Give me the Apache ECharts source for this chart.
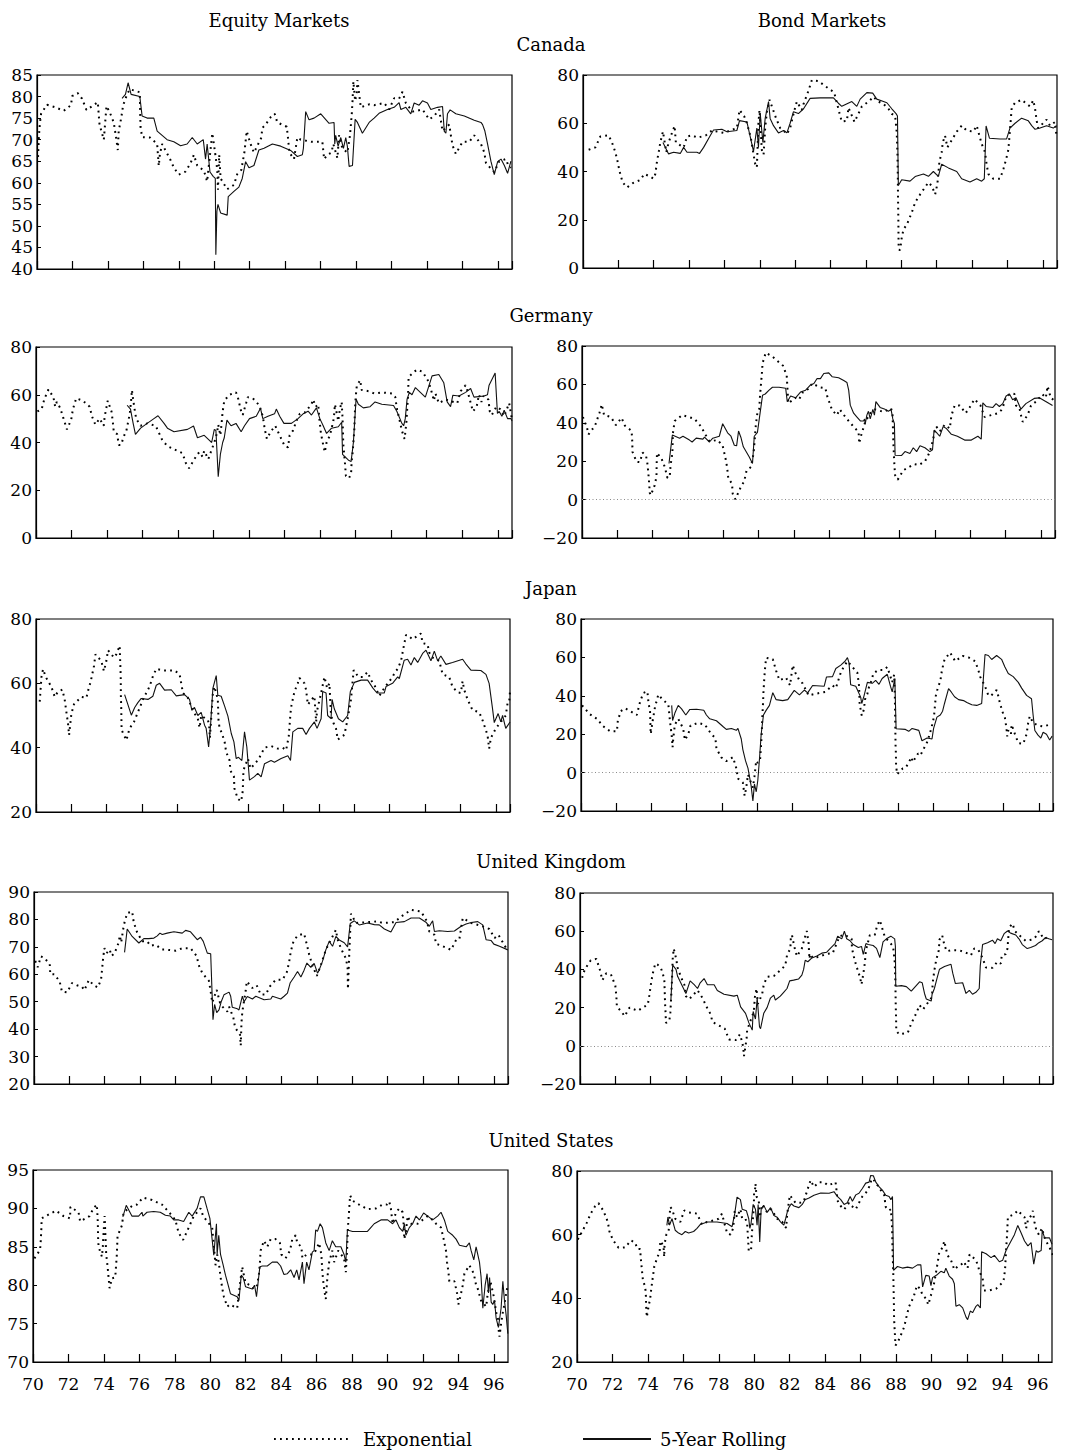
<!DOCTYPE html>
<html><head><meta charset="utf-8">
<script src="https://cdn.jsdelivr.net/npm/echarts/dist/echarts.min.js"></script>
<style>html,body{margin:0;padding:0;background:#fff}#c{width:1072px;height:1454px}</style>
</head><body><div id="c"></div>
<script>
// ---------- tick labels ----------
const xTickYears = [1970,1972,1974,1976,1978,1980,1982,1984,1986,1988,1990,1992,1994,1996];
const xTickLabels = ['70','72','74','76','78','80','82','84','86','88','90','92','94','96'];
const columnTitles = ['Equity Markets','Bond Markets'];
const countryTitles = ['Canada','Germany','Japan','United Kingdom','United States'];
const legendNames = ['Exponential','5-Year Rolling'];
const zeroRef = 0;

// ---------- data: [year, correlation %] ----------
const canadaEquityRolling = [[1974.80,79.6],[1974.99,80.5],[1975.14,83.2],[1975.31,80.5],[1975.80,80],[1975.93,75.5],[1976.21,75],[1976.59,75],[1976.78,72],[1977.06,71],[1977.34,70],[1977.72,69.5],[1978.10,68.6],[1978.47,69],[1978.76,70.5],[1979.04,69],[1979.38,70],[1979.51,65.5],[1979.60,69],[1979.76,62.5],[1979.94,61.5],[1980.06,61],[1980.09,43.3],[1980.15,53.4],[1980.21,55],[1980.36,53],[1980.73,52.5],[1980.79,56.8],[1981.11,58],[1981.39,59],[1981.58,61],[1981.77,64.9],[1981.96,63.5],[1982.24,64],[1982.52,67.6],[1982.81,68],[1983.28,69],[1983.75,68.5],[1984.31,67.5],[1984.69,66.1],[1984.97,66.5],[1985.03,68],[1985.16,76.5],[1985.35,74.6],[1985.63,75],[1986.01,76],[1986.48,73.8],[1986.76,74],[1986.80,69],[1986.85,71],[1986.99,68.5],[1987.14,70.5],[1987.29,68],[1987.42,70.5],[1987.51,68.5],[1987.61,63.8],[1987.80,64],[1987.95,74.7],[1988.08,74],[1988.36,71.5],[1988.74,74],[1989.02,75],[1989.30,76.1],[1989.77,77],[1990.15,77.5],[1990.43,78.6],[1990.53,77],[1990.81,77.5],[1991.09,76],[1991.28,78.5],[1991.56,78],[1991.75,79],[1992.03,78.5],[1992.22,77],[1992.60,77.5],[1992.88,77.7],[1992.98,71.9],[1993.07,71.5],[1993.16,76],[1993.31,76.9],[1993.63,76],[1994.11,75.5],[1994.67,74.5],[1995.05,74],[1995.14,73.5],[1995.27,72],[1995.42,69],[1995.61,65],[1995.80,61.9],[1995.99,64.9],[1996.18,65.5],[1996.37,64],[1996.55,62.2],[1996.74,65]];
const canadaEquityExp = [[1970.06,66],[1970.11,71],[1970.17,74],[1970.23,76],[1970.56,78.1],[1971.04,77.5],[1971.51,76.7],[1971.92,78],[1971.98,80.1],[1972.30,80.8],[1972.54,79.5],[1972.79,76.9],[1973.01,77.5],[1973.20,78],[1973.43,78.7],[1973.52,73.8],[1973.63,72],[1973.77,70],[1973.92,77.8],[1974.09,76.5],[1974.33,74],[1974.48,70],[1974.56,67.6],[1974.61,72],[1974.75,75],[1974.86,78],[1974.95,79],[1975.08,80.5],[1975.24,81.7],[1975.80,81],[1975.84,73],[1975.93,70.6],[1976.37,70.5],[1976.78,69],[1976.87,63.9],[1976.93,66.5],[1977.06,69],[1977.53,65.3],[1977.72,63.5],[1978.00,61.9],[1978.38,62.6],[1978.66,64.5],[1978.85,66.5],[1979.04,64],[1979.42,62.8],[1979.60,60.3],[1979.89,71.5],[1979.98,69],[1980.08,66],[1980.17,63],[1980.21,58.4],[1980.28,66.5],[1980.36,61],[1980.73,58.5],[1981.11,59.5],[1981.30,62],[1981.53,63],[1981.71,67.3],[1981.83,72],[1982.05,69],[1982.24,67],[1982.66,70.5],[1982.71,72.7],[1982.90,73.5],[1983.18,75.2],[1983.41,76],[1983.56,74],[1984.09,73],[1984.16,70.5],[1984.24,67],[1984.50,65.5],[1984.69,70.5],[1984.88,70],[1985.50,69.5],[1986.10,69.5],[1986.20,65.5],[1986.38,66.5],[1986.61,67],[1986.72,69],[1986.95,65.7],[1987.04,71],[1987.23,68],[1987.51,67],[1987.66,71],[1987.76,76],[1987.80,78.8],[1987.85,83.5],[1987.95,79],[1988.04,80.8],[1988.08,83.8],[1988.27,77.5],[1988.74,78.2],[1989.02,78],[1989.59,78.5],[1989.87,77],[1990.15,79.6],[1990.43,79.5],[1990.62,81.1],[1990.81,78.5],[1991.19,76.5],[1991.75,77],[1992.13,74.7],[1992.41,75.5],[1992.69,77],[1992.88,72],[1993.26,73.5],[1993.35,71],[1993.45,68.6],[1993.63,66.7],[1994.01,69.5],[1994.39,69.5],[1994.67,71],[1995.05,69],[1995.24,67],[1995.33,64.6],[1995.67,63],[1995.80,62.5],[1996.08,65],[1996.46,65.5],[1996.59,64],[1996.74,63.5]];
const canadaBondRolling = [[1974.52,52],[1974.84,47.3],[1975.12,48],[1975.50,47.5],[1975.69,50],[1975.88,48],[1976.44,48],[1976.59,47.5],[1976.82,50],[1977.19,54.8],[1977.38,57.2],[1977.85,57.5],[1978.14,56.5],[1978.70,57],[1978.85,61.1],[1979.27,60.5],[1979.64,48.3],[1979.83,58],[1979.92,50],[1980.02,64.1],[1980.17,52],[1980.30,62],[1980.49,69],[1980.58,62],[1980.77,59],[1981.05,56],[1981.34,57],[1981.53,56],[1981.71,60],[1981.90,64.8],[1982.18,64],[1982.47,66],[1982.84,70.3],[1983.41,70.5],[1984.16,70.5],[1984.44,68.3],[1984.63,67],[1985.20,69],[1985.48,67],[1985.67,70],[1986.05,72.7],[1986.38,72.5],[1986.61,70],[1986.99,69],[1987.18,68.5],[1987.46,66],[1987.70,64],[1987.78,63],[1987.83,34.2],[1988.02,36.6],[1988.49,36],[1988.78,37.9],[1989.25,39],[1989.53,38],[1989.81,40],[1990.09,38],[1990.28,43],[1990.66,41.5],[1991.13,40],[1991.41,37],[1991.88,35.6],[1992.26,37],[1992.54,36],[1992.69,37],[1992.79,58.9],[1992.98,53.8],[1993.58,53.5],[1993.95,53.5],[1994.14,58],[1994.43,60],[1994.80,62.1],[1995.18,61],[1995.37,59],[1995.56,57.5],[1995.84,58],[1996.21,59],[1996.59,58],[1996.78,59]];
const canadaBondExp = [[1970.32,49],[1970.70,50],[1970.98,54.5],[1971.45,55],[1971.64,52],[1971.83,48],[1971.96,44],[1972.07,40],[1972.24,35.5],[1972.49,33.4],[1972.82,35.2],[1973.24,36.5],[1973.47,39],[1973.77,38],[1973.99,37],[1974.09,39],[1974.18,44],[1974.29,48.5],[1974.37,52],[1974.52,56.6],[1974.60,53],[1974.71,48],[1974.84,52],[1975.03,56],[1975.18,58.9],[1975.25,52],[1975.69,50],[1975.88,54.5],[1976.16,55],[1976.48,54],[1976.95,55],[1977.29,57],[1977.95,56],[1978.32,57],[1978.70,58],[1978.85,65.5],[1979.11,63],[1979.27,60],[1979.49,54],[1979.64,47.2],[1979.74,43],[1979.83,41.7],[1979.92,60],[1979.98,65.5],[1980.11,49],[1980.21,47],[1980.30,58],[1980.40,65],[1980.55,69.7],[1980.92,62],[1981.15,58],[1981.34,57],[1981.53,55.5],[1981.71,58],[1981.94,65],[1982.09,69],[1982.37,65.5],[1982.47,68],[1982.75,73.5],[1982.94,77.9],[1983.31,77.5],[1983.69,75.4],[1984.20,72.8],[1984.48,64.8],[1984.63,60.7],[1984.92,61],[1985.01,66.5],[1985.35,60.5],[1985.76,66.9],[1986.23,69.5],[1986.42,71],[1986.70,69],[1986.99,68],[1987.27,66],[1987.46,63.9],[1987.65,63],[1987.74,56],[1987.78,47],[1987.80,38],[1987.81,30],[1987.82,25],[1987.83,20],[1987.835,16],[1987.84,12],[1987.85,7.6],[1987.93,7.5],[1988.02,12.5],[1988.12,16],[1988.31,18],[1988.59,23],[1988.78,27.2],[1989.06,30.5],[1989.34,33.5],[1989.53,35.5],[1989.72,34],[1989.91,30.5],[1990.04,35],[1990.15,44],[1990.28,48],[1990.34,52],[1990.47,54.9],[1990.60,50],[1990.85,53],[1991.13,56.5],[1991.41,59],[1991.69,57],[1992.07,56.5],[1992.26,59],[1992.54,51.5],[1992.73,48],[1992.82,43],[1992.92,39],[1993.20,37],[1993.58,37],[1993.77,41],[1993.92,45],[1994.05,49],[1994.14,57],[1994.24,66.5],[1994.43,68.5],[1994.80,69.7],[1995.27,67],[1995.46,69.5],[1995.56,66],[1995.65,61],[1995.74,58],[1996.21,61.5],[1996.40,59],[1996.69,60.5],[1996.78,54]];
const germanyEquityRolling = [[1975.13,55.6],[1975.32,54],[1975.47,48],[1975.60,43.4],[1975.89,46],[1976.26,48],[1976.64,50],[1976.87,51.2],[1977.21,48],[1977.40,46],[1977.77,44.5],[1978.53,45.5],[1978.87,46.9],[1979.09,42],[1979.47,43],[1979.75,41],[1979.89,40],[1980.04,45.5],[1980.13,45],[1980.26,25.7],[1980.38,35],[1980.51,40],[1980.60,42],[1980.75,49.4],[1980.98,47],[1981.26,48],[1981.55,44.5],[1981.74,47],[1982.02,50],[1982.40,51],[1982.64,54.3],[1982.77,50],[1983.06,51],[1983.43,52],[1983.53,54],[1983.72,51],[1983.96,48],[1984.38,48],[1984.75,50],[1985.04,52],[1985.32,53.1],[1985.51,51.5],[1985.79,54.5],[1985.98,50],[1986.17,47],[1986.36,43.8],[1986.64,46],[1987.02,46.6],[1987.21,48.5],[1987.26,35],[1987.58,32.7],[1987.74,32],[1987.87,40],[1988.02,58.2],[1988.15,56],[1988.43,54.5],[1988.81,55],[1989.09,57],[1989.47,56],[1990.13,55.5],[1990.32,53],[1990.60,48],[1990.70,47],[1990.79,50],[1990.89,58],[1991.02,61],[1991.17,60],[1991.36,63],[1991.64,61],[1991.92,59],[1992.30,67.9],[1992.68,68.5],[1992.96,65],[1993.15,57],[1993.34,55],[1993.47,59.8],[1993.81,59.5],[1994.19,61],[1994.47,62.6],[1994.66,59],[1995.23,59.5],[1995.42,60],[1995.51,64],[1995.85,69.1],[1995.98,52.2],[1996.08,53],[1996.23,51],[1996.36,53.5],[1996.55,50],[1996.74,50],[1996.80,49]];
const germanyEquityExp = [[1970.08,53],[1970.32,54],[1970.47,58.2],[1970.70,62.2],[1970.98,59],[1971.08,55],[1971.17,57],[1971.36,54.5],[1971.55,50],[1971.74,45.5],[1971.98,49.5],[1972.08,54],[1972.26,58.5],[1972.64,57.5],[1973.02,55],[1973.15,51],[1973.34,47.5],[1973.58,50],[1973.81,47],[1973.87,51],[1974.04,57.5],[1974.25,53],[1974.32,49],[1974.38,44.5],[1974.57,43.5],[1974.66,39],[1974.79,39],[1974.94,42.5],[1975.09,45],[1975.17,48],[1975.28,52],[1975.36,58],[1975.40,62],[1975.47,58],[1975.55,54],[1975.64,50],[1975.89,47],[1976.26,48],[1976.74,47],[1977.11,41],[1977.40,38.5],[1978.25,35.5],[1978.43,31.5],[1978.62,29.2],[1978.91,33],[1979.19,36],[1979.38,34],[1979.47,36.5],[1979.70,33],[1979.89,37],[1980.04,40],[1980.19,44],[1980.26,47.5],[1980.38,43],[1980.45,48],[1980.51,53],[1980.60,57.5],[1980.89,60],[1981.26,61],[1981.40,58],[1981.51,54],[1981.64,51.5],[1981.83,56.5],[1981.92,59],[1982.21,58.5],[1982.58,55.5],[1982.77,51],[1982.87,46],[1983.00,41.5],[1983.21,44.5],[1983.47,47],[1983.72,43],[1984.00,38.5],[1984.19,38],[1984.28,43],[1984.47,45],[1984.66,49],[1984.85,52],[1985.13,52.5],[1985.51,56],[1985.60,58],[1985.75,55],[1985.89,56],[1985.94,51],[1986.04,44],[1986.17,39],[1986.26,36],[1986.36,40],[1986.55,43],[1986.74,49],[1986.79,52],[1986.83,56],[1987.02,49],[1987.11,54],[1987.21,57],[1987.26,50],[1987.30,39.5],[1987.40,30.9],[1987.45,26],[1987.62,25],[1987.74,27],[1987.77,32],[1987.83,36],[1987.92,45],[1987.96,54],[1988.00,59],[1988.06,63.7],[1988.25,66.1],[1988.34,62],[1988.72,61.5],[1989.06,60.5],[1989.47,61],[1990.04,60.5],[1990.23,59],[1990.32,54],[1990.42,51],[1990.51,48],[1990.60,45],[1990.75,41.5],[1990.85,48],[1990.89,53],[1990.94,58.5],[1990.96,63],[1990.98,67.5],[1991.13,68.5],[1991.36,70],[1991.45,70.5],[1991.77,69.6],[1992.11,65.4],[1992.30,60.5],[1992.40,57.5],[1992.49,60.5],[1992.68,56.5],[1993.06,58],[1993.72,56.5],[1993.91,61.5],[1994.19,64],[1994.28,62],[1994.60,53],[1994.81,55],[1994.94,60],[1995.08,57],[1995.19,59.5],[1995.47,58],[1995.55,53],[1995.66,51.5],[1995.92,55],[1996.13,54],[1996.36,51],[1996.64,56.5],[1996.80,49.5]];
const germanyBondRolling = [[1974.93,18.8],[1975.02,26],[1975.12,33.6],[1975.53,32],[1975.72,33],[1976.09,31],[1976.24,30],[1976.47,32],[1976.85,31.5],[1976.94,32.5],[1977.22,30],[1977.41,32],[1977.78,33],[1977.97,39.5],[1978.25,34.8],[1978.44,33],[1978.63,28.3],[1978.76,28],[1978.87,35.7],[1979.00,32.5],[1979.14,27.5],[1979.47,22.3],[1979.66,18.8],[1979.76,33],[1979.94,35],[1980.23,54.4],[1980.38,55],[1980.60,57],[1980.79,58.5],[1981.16,58.5],[1981.54,58],[1981.63,51],[1981.82,54],[1982.10,53],[1982.38,56],[1982.67,57],[1982.95,59.7],[1983.14,60.5],[1983.32,63.1],[1983.51,63],[1983.70,65.7],[1983.98,66],[1984.17,64],[1984.54,63.5],[1984.83,62],[1985.01,61],[1985.11,57],[1985.20,49.2],[1985.39,45],[1985.58,43],[1985.77,41],[1985.95,40.9],[1986.01,42],[1986.05,39.5],[1986.14,44],[1986.23,46],[1986.33,42],[1986.48,47],[1986.57,44],[1986.65,51],[1986.89,48],[1987.17,47],[1987.36,46],[1987.51,47],[1987.61,42],[1987.70,39.7],[1987.74,23.1],[1988.11,23],[1988.30,25],[1988.58,24],[1988.77,27],[1988.96,25],[1989.15,28],[1989.43,27],[1989.71,25],[1989.86,26],[1989.95,36.2],[1990.08,35],[1990.27,33],[1990.46,38],[1990.65,37],[1990.93,34],[1991.27,33],[1991.68,31],[1992.06,31],[1992.43,33],[1992.62,31.5],[1992.71,50.4],[1992.90,48.5],[1993.28,48],[1993.46,50],[1993.65,48.5],[1993.84,50],[1994.03,54],[1994.22,55],[1994.40,52],[1994.59,53],[1994.87,47.1],[1995.15,50],[1995.62,52.7],[1995.91,53],[1996.47,50],[1996.66,49]];
const germanyBondExp = [[1970.05,43],[1970.18,40],[1970.27,38],[1970.37,34],[1970.74,38.5],[1970.99,45.2],[1971.12,49.6],[1971.25,44],[1971.64,43],[1971.92,38.8],[1972.24,42.6],[1972.43,38.5],[1972.81,35.8],[1972.85,30],[1972.86,24.9],[1973.09,19.7],[1973.28,19.5],[1973.43,24.5],[1973.62,23],[1973.69,20],[1973.75,14.8],[1973.80,9.2],[1973.84,3.5],[1973.90,2.3],[1974.12,7.5],[1974.22,12],[1974.23,18.5],[1974.25,24.3],[1974.50,21.5],[1974.69,17],[1974.84,11.3],[1974.97,12],[1975.02,18],[1975.12,24],[1975.15,34.5],[1975.25,40.9],[1975.68,44],[1976.06,43],[1976.38,42],[1976.75,38],[1976.98,34],[1977.22,30.4],[1977.69,31],[1977.97,28],[1978.12,22],[1978.22,17],[1978.29,11],[1978.50,8.3],[1978.54,3],[1978.69,0.2],[1979.00,6.6],[1979.19,9.5],[1979.32,15],[1979.57,17],[1979.72,24],[1979.81,34],[1979.85,39],[1979.94,45.2],[1980.04,47],[1980.09,54.4],[1980.13,59],[1980.19,65.4],[1980.23,71],[1980.41,76.5],[1980.79,74.5],[1981.39,69.7],[1981.60,64.5],[1981.69,50.1],[1982.07,53],[1982.29,52],[1982.52,56],[1982.89,58],[1983.04,60.5],[1983.51,58.4],[1983.79,58],[1983.89,54],[1984.04,50],[1984.17,46.6],[1984.45,44],[1984.60,47],[1984.98,42.3],[1985.20,40],[1985.43,37.5],[1985.67,35.3],[1985.71,29.2],[1985.77,32],[1986.05,40.5],[1986.33,45],[1986.61,47],[1987.08,45.7],[1987.51,47.5],[1987.59,45],[1987.61,40],[1987.64,30],[1987.70,17.9],[1987.74,12.7],[1987.89,10.4],[1988.21,15.3],[1988.83,18.5],[1989.09,18],[1989.43,20],[1989.56,22],[1989.71,25],[1989.86,30],[1989.99,35.5],[1990.08,38],[1990.27,35.5],[1990.55,39],[1990.84,37],[1990.93,43.7],[1991.12,49.2],[1991.40,49],[1991.74,45],[1991.96,48],[1992.24,52.3],[1992.58,49],[1992.81,43],[1993.18,44],[1993.56,45],[1993.75,46.5],[1993.84,48],[1994.03,53.6],[1994.31,55.3],[1994.50,55],[1994.59,49],[1994.78,48],[1994.87,44],[1994.97,40.5],[1995.25,44],[1995.44,49],[1995.72,51],[1995.91,53],[1996.09,54.8],[1996.28,53],[1996.38,59.1],[1996.56,53],[1996.71,52]];
const japanEquityRolling = [[1975.01,56.5],[1975.16,54],[1975.39,50.1],[1975.58,52.5],[1975.76,54],[1975.95,55.3],[1976.33,55],[1976.61,56],[1976.80,59.4],[1976.99,60],[1977.27,57.9],[1977.65,58],[1977.93,56.1],[1978.40,56.5],[1978.68,55],[1978.81,51.7],[1978.96,52.5],[1979.15,50],[1979.34,51],[1979.53,47],[1979.62,46],[1979.76,40.2],[1979.87,47],[1980.00,58.4],[1980.19,62.4],[1980.28,56.3],[1980.47,56],[1980.66,53],[1980.85,49.8],[1981.04,44.4],[1981.19,41.8],[1981.32,36.6],[1981.45,37],[1981.64,36],[1981.79,44.9],[1981.92,40.2],[1982.07,29.9],[1982.35,31],[1982.54,32],[1982.73,30.9],[1982.92,35],[1983.29,36],[1983.48,35.5],[1983.86,36.6],[1984.24,37.5],[1984.39,36],[1984.52,44.9],[1984.80,46],[1985.08,46],[1985.27,44.1],[1985.46,46],[1985.74,48],[1985.89,46],[1986.12,49],[1986.21,57.5],[1986.40,57],[1986.49,50],[1986.68,49],[1986.74,55],[1986.87,52],[1987.10,49],[1987.34,48],[1987.62,50],[1987.77,57.4],[1988.00,60.3],[1988.38,61],[1988.75,61],[1989.04,58.6],[1989.28,57],[1989.69,57],[1989.79,59],[1990.16,60],[1990.45,62],[1990.54,61.5],[1990.82,67.2],[1991.01,67.5],[1991.20,65.7],[1991.39,68],[1991.58,66.5],[1991.86,69.3],[1992.05,70.3],[1992.33,67],[1992.52,70],[1992.71,67],[1992.89,68.5],[1993.18,65.9],[1993.55,66.5],[1994.12,67.5],[1994.31,66],[1994.59,64.1],[1995.15,64],[1995.44,62.8],[1995.62,60],[1995.81,52.2],[1995.91,47.8],[1996.13,50.6],[1996.28,48],[1996.38,50],[1996.56,46],[1996.80,48]];
const japanEquityExp = [[1970.21,54.3],[1970.31,62],[1970.40,64.4],[1970.55,62],[1970.87,58.9],[1971.06,55.8],[1971.25,57.5],[1971.49,58],[1971.62,55],[1971.72,51],[1971.81,47.5],[1971.87,43.9],[1972.00,50.5],[1972.15,53.5],[1972.56,55.8],[1972.85,55.5],[1972.98,58.5],[1973.09,60.5],[1973.28,65.4],[1973.36,69],[1973.69,67],[1973.84,63.8],[1973.98,67],[1974.07,70.3],[1974.41,68],[1974.54,69],[1974.73,71.7],[1974.75,68.5],[1974.79,62],[1974.80,56],[1974.82,52],[1974.84,45.5],[1975.11,42.3],[1975.29,46],[1975.54,48],[1975.76,51],[1976.05,55],[1976.42,59],[1976.61,62.2],[1976.80,64.5],[1977.18,64],[1977.84,64],[1978.12,62.8],[1978.21,60],[1978.31,57],[1978.59,55.5],[1978.87,51.5],[1979.15,49],[1979.25,46.2],[1979.34,50],[1979.72,48.5],[1979.79,47],[1979.83,43],[1980.00,57],[1980.09,59],[1980.28,55],[1980.32,48.5],[1980.38,46],[1980.47,45],[1980.66,42],[1980.75,38.7],[1980.94,36.1],[1981.00,32.8],[1981.19,31],[1981.22,27.3],[1981.41,24.1],[1981.60,23.3],[1981.69,26.5],[1981.73,33],[1981.98,36.6],[1982.13,33.5],[1982.45,35.5],[1982.64,37],[1982.92,40],[1983.29,40.5],[1983.67,39.7],[1983.95,40],[1984.14,39.2],[1984.29,43.5],[1984.39,50.8],[1984.44,53],[1984.61,57.4],[1984.80,60],[1984.89,61.7],[1985.18,60],[1985.27,58],[1985.37,53.4],[1985.74,56],[1985.84,48],[1985.89,51.5],[1986.12,57],[1986.31,62],[1986.46,58.5],[1986.59,60],[1986.68,50.1],[1986.83,47.5],[1986.96,46],[1987.06,42.5],[1987.44,44],[1987.62,49],[1987.81,55],[1987.91,61],[1987.96,64.1],[1988.23,62],[1988.47,62],[1988.75,63.5],[1988.94,61],[1989.13,59.5],[1989.41,56.1],[1989.69,58.5],[1990.16,62],[1990.30,63.5],[1990.45,64.5],[1990.64,67],[1990.79,71.4],[1990.92,75],[1991.01,75],[1991.29,73.7],[1991.76,75.5],[1991.86,72.5],[1992.14,72.1],[1992.24,69.5],[1992.42,68],[1992.80,67],[1992.99,62.8],[1993.36,62],[1993.55,58.9],[1993.84,57.2],[1994.02,57],[1994.12,60.7],[1994.21,58],[1994.40,55],[1994.68,51.7],[1995.06,51],[1995.25,48.5],[1995.53,43.9],[1995.62,39.7],[1995.72,43],[1996.00,46],[1996.56,50],[1996.66,53.7],[1996.75,54],[1996.80,57.5]];
const japanBondRolling = [[1975.15,35],[1975.20,27.1],[1975.33,31],[1975.52,35],[1975.71,33.2],[1975.95,30],[1976.18,32.9],[1976.56,33],[1976.97,32.5],[1977.12,30],[1977.31,28],[1977.69,27],[1978.06,24],[1978.25,22.5],[1978.54,23],[1978.82,22],[1978.91,23],[1979.10,17.5],[1979.19,12],[1979.34,6.2],[1979.48,2.3],[1979.66,-6.9],[1979.76,-14.8],[1979.85,-6],[1979.95,-10],[1980.04,-4],[1980.14,7.9],[1980.23,20],[1980.36,30],[1980.51,32.4],[1980.70,35],[1980.89,41.6],[1981.08,38],[1981.45,37.5],[1981.74,38],[1982.11,42.8],[1982.40,40.5],[1982.68,43],[1982.87,41.5],[1983.15,45.4],[1983.81,45],[1983.94,49.8],[1984.28,50],[1984.47,54.2],[1984.75,56],[1984.99,58],[1985.13,59.9],[1985.22,57],[1985.31,45.8],[1985.60,45],[1985.88,39.3],[1985.94,36],[1986.07,40],[1986.26,47],[1986.54,46.5],[1986.73,48],[1986.92,46],[1987.10,49],[1987.39,51.2],[1987.57,45],[1987.67,42],[1987.82,49],[1987.89,22.8],[1988.42,22.5],[1988.61,21.5],[1988.80,23],[1989.18,22],[1989.36,16.6],[1989.65,18],[1989.93,17.5],[1990.02,23],[1990.21,28.9],[1990.40,30],[1990.53,32],[1990.64,36],[1990.87,43.7],[1991.02,42],[1991.21,39.5],[1991.44,38],[1991.72,37.5],[1991.91,36.5],[1992.19,35.3],[1992.47,35],[1992.75,36],[1992.94,61.5],[1993.13,61],[1993.32,58.9],[1993.60,61],[1993.88,59],[1994.07,55],[1994.26,51.6],[1994.54,50],[1994.83,47],[1995.02,44],[1995.30,40.2],[1995.58,38.5],[1995.67,30],[1995.77,21.9],[1995.95,19.5],[1996.11,18],[1996.24,21],[1996.43,20],[1996.61,17],[1996.75,19]];
const japanBondExp = [[1970.06,35],[1970.49,30.5],[1970.91,28],[1971.25,24.2],[1971.66,21.5],[1972.04,21.5],[1972.09,27],[1972.26,32],[1972.51,33.5],[1972.89,31.5],[1973.17,30],[1973.36,37.1],[1973.54,41.5],[1973.77,42.3],[1973.83,36.5],[1973.92,32],[1973.94,25],[1973.96,20.1],[1974.07,27],[1974.20,34],[1974.39,40.6],[1974.64,38],[1974.96,35.5],[1975.05,27],[1975.15,19.3],[1975.20,13.2],[1975.24,18],[1975.33,25],[1975.52,28],[1975.80,23],[1975.90,17],[1976.09,20],[1976.22,24.5],[1976.65,25.9],[1977.03,25],[1977.40,20.1],[1977.63,18],[1977.69,12.5],[1977.97,7.9],[1978.25,6],[1978.63,8],[1978.82,2.2],[1978.91,-3.1],[1979.19,-5.2],[1979.29,-12.1],[1979.38,-8],[1979.48,-1],[1979.76,-7.8],[1979.85,-2],[1979.95,6.2],[1980.04,5],[1980.17,7],[1980.23,15],[1980.27,22],[1980.29,28],[1980.34,37.1],[1980.36,42],[1980.40,48],[1980.44,53.3],[1980.51,59.8],[1980.89,59],[1981.08,53],[1981.27,48.1],[1981.64,49.5],[1981.87,45.4],[1982.02,55.9],[1982.17,52],[1982.30,50],[1982.40,48],[1982.58,46.5],[1982.92,40.2],[1983.34,41.1],[1983.86,42],[1984.28,45.4],[1984.47,44],[1984.75,52.1],[1984.94,55.5],[1985.13,58],[1985.41,55],[1985.69,52],[1985.75,48],[1985.79,45],[1985.81,39],[1985.82,35.8],[1985.94,29.7],[1986.07,33],[1986.12,38],[1986.26,41],[1986.35,44.5],[1986.50,48],[1986.60,51.6],[1986.88,53.5],[1987.20,53.5],[1987.39,55],[1987.57,50],[1987.67,47],[1987.78,51],[1987.82,40],[1987.84,28],[1987.86,14.4],[1987.88,10],[1987.89,3.6],[1987.95,-0.8],[1988.27,2.2],[1988.42,2.5],[1988.57,4.5],[1988.76,8],[1988.84,5.5],[1989.14,10],[1989.27,9],[1989.65,15.8],[1989.78,19.5],[1989.89,23],[1990.04,28.9],[1990.08,33],[1990.15,40.2],[1990.27,44.5],[1990.40,47.5],[1990.49,53.1],[1990.64,58.9],[1990.96,62.5],[1991.25,58],[1991.66,60.8],[1992.00,60],[1992.38,58],[1992.56,53.5],[1992.66,50],[1992.94,45],[1993.13,40.2],[1993.28,40],[1993.60,43],[1993.69,40],[1993.79,36],[1993.97,30.6],[1994.07,28.5],[1994.16,23],[1994.20,18.9],[1994.26,22],[1994.41,20],[1994.45,25],[1994.64,20],[1994.83,15.4],[1995.11,15],[1995.30,20],[1995.39,25.9],[1995.48,29.4],[1995.67,26],[1995.95,24.5],[1996.24,24],[1996.61,25]];
const ukEquityRolling = [[1975.12,68],[1975.27,76.5],[1975.55,73.8],[1975.93,71.4],[1976.21,73],[1976.49,73],[1976.78,73.2],[1976.97,74],[1977.12,75],[1977.25,74.5],[1977.53,75],[1977.91,75.5],[1978.38,75],[1978.57,76],[1978.85,75.5],[1979.23,72.6],[1979.42,73.5],[1979.57,72],[1979.80,67.7],[1979.99,67.5],[1980.02,62],[1980.12,43.4],[1980.21,49],[1980.33,46],[1980.46,47],[1980.59,50.1],[1980.74,52.5],[1981.03,53.5],[1981.12,52],[1981.21,48],[1981.50,47.4],[1981.59,47],[1981.78,52],[1981.88,50],[1982.06,51.9],[1982.35,51],[1982.54,52],[1983.01,50.7],[1983.39,51],[1983.48,52],[1983.95,51],[1984.14,52],[1984.33,53.1],[1984.48,56.8],[1984.71,59],[1984.90,61],[1985.09,59],[1985.27,61.5],[1985.43,64.1],[1985.65,62.5],[1985.84,64],[1986.03,60.4],[1986.12,61.5],[1986.31,64.7],[1986.50,68.9],[1986.69,72],[1986.88,70.2],[1987.07,73.8],[1987.26,72.5],[1987.54,71.5],[1987.73,70],[1987.88,78.5],[1988.11,79.5],[1988.39,78],[1988.86,78.7],[1989.24,78.1],[1989.52,78],[1989.81,76.5],[1990.18,75.4],[1990.47,78.9],[1990.94,79.2],[1991.32,80.5],[1991.79,80.5],[1992.16,79],[1992.35,77.5],[1992.54,79.5],[1992.64,75.6],[1992.92,75.9],[1993.39,75.6],[1993.77,75.8],[1994.15,77.5],[1994.43,78.3],[1994.72,78.9],[1995.09,79.2],[1995.37,78],[1995.56,72.6],[1995.85,72.3],[1996.00,71],[1996.32,70.2],[1996.79,68.9]];
const ukEquityExp = [[1970.07,64.9],[1970.21,62.6],[1970.39,66.5],[1970.58,66],[1970.89,63.7],[1970.92,60.1],[1971.15,60],[1971.45,57.4],[1971.58,53.7],[1971.87,53.4],[1972.15,56.8],[1972.43,56],[1972.72,55.4],[1972.85,54.2],[1973.10,57.9],[1973.38,56],[1973.60,55.2],[1973.79,58],[1973.85,61.9],[1973.91,65.9],[1973.98,69.5],[1974.10,67.7],[1974.28,69],[1974.38,66.7],[1974.55,67.6],[1974.79,71.6],[1974.85,74.1],[1974.93,71.6],[1975.08,78],[1975.27,82.3],[1975.55,82.9],[1975.64,78.9],[1975.83,75.3],[1976.12,72],[1976.40,72],[1976.59,70.4],[1976.87,70.8],[1977.25,69],[1977.44,69],[1978.00,68.6],[1978.38,69.5],[1978.85,69.5],[1979.19,66.7],[1979.33,63.1],[1979.52,60.4],[1979.89,57.6],[1979.99,53.7],[1980.08,49.7],[1980.33,54.3],[1980.40,52.5],[1980.52,49.5],[1980.65,48.2],[1980.93,46.4],[1981.03,48.2],[1981.27,44.2],[1981.37,40.6],[1981.65,37.9],[1981.69,34],[1981.73,42.4],[1981.78,46.4],[1981.97,54],[1982.03,57.4],[1982.35,55],[1982.59,56],[1982.82,52.6],[1983.10,52.6],[1983.35,55.7],[1983.67,58],[1984.05,58],[1984.29,60.7],[1984.42,64.3],[1984.52,68.3],[1984.67,72],[1984.90,74.1],[1985.27,74.8],[1985.43,70.8],[1985.56,67.1],[1985.75,63.1],[1985.99,59.4],[1986.22,63.4],[1986.50,68.9],[1986.69,71.4],[1987.07,76.2],[1987.16,72.8],[1987.35,69.5],[1987.63,65.8],[1987.73,62.6],[1987.74,58.3],[1987.75,54.6],[1987.84,70],[1987.92,82.1],[1988.20,78.7],[1988.86,79],[1989.43,79.3],[1989.71,78.7],[1990.37,79],[1990.84,81.4],[1991.32,83.5],[1991.88,82.9],[1992.22,79.3],[1992.35,75.6],[1992.64,74.4],[1992.73,71.1],[1993.02,70.5],[1993.58,68.9],[1993.87,72.6],[1994.05,72.8],[1994.24,80.5],[1994.72,78.7],[1995.28,77.7],[1995.75,76.5],[1996.04,73.2],[1996.26,74.4],[1996.70,69.5]];
const ukBondRolling = [[1975.15,23.9],[1975.25,42.2],[1975.44,40],[1975.53,36.4],[1975.81,31],[1976.00,27.4],[1976.24,34],[1976.47,32],[1976.66,30],[1976.81,33],[1977.03,35.2],[1977.22,32],[1977.60,32],[1977.78,29],[1978.16,27],[1978.72,26],[1978.91,26.5],[1979.10,20.4],[1979.38,17],[1979.57,12],[1979.76,8.2],[1979.81,18],[1979.94,14],[1980.04,25],[1980.17,10],[1980.23,9],[1980.41,17],[1980.60,20],[1980.79,25],[1980.98,26.5],[1981.07,24],[1981.35,26],[1981.54,28],[1981.73,30],[1981.88,34],[1982.10,34.4],[1982.39,35],[1982.57,37],[1982.67,40],[1982.76,44.8],[1982.91,44],[1983.14,46],[1983.42,47],[1983.70,48.5],[1983.98,49],[1984.21,51.3],[1984.45,53.5],[1984.60,57.4],[1984.83,56],[1984.98,60],[1985.11,56],[1985.30,55],[1985.48,53],[1985.77,51.5],[1985.95,52],[1986.05,47.9],[1986.20,53.5],[1986.33,53],[1986.61,52.5],[1986.80,51],[1986.99,46.2],[1987.17,54.4],[1987.36,56],[1987.61,57.4],[1987.83,56],[1987.87,52],[1987.89,31.2],[1988.21,31.5],[1988.49,31],[1988.77,28.6],[1989.05,31.5],[1989.24,33.5],[1989.39,33],[1989.52,27.4],[1989.62,24.5],[1989.90,23.4],[1989.95,27],[1990.08,30],[1990.22,35],[1990.37,40.1],[1990.65,41.5],[1991.02,42.7],[1991.12,38],[1991.27,32.6],[1991.68,33],[1991.87,27.4],[1992.06,29],[1992.24,27],[1992.43,28],[1992.62,30],[1992.68,42],[1992.81,53],[1993.09,54],[1993.37,55.3],[1993.52,53.5],[1993.65,56],[1993.84,55],[1994.03,58.7],[1994.22,60.1],[1994.40,59],[1994.69,58],[1994.87,56],[1995.06,53],[1995.34,50.9],[1995.53,51.5],[1995.81,52.5],[1996.00,54],[1996.19,55],[1996.38,56.7],[1996.56,56],[1996.75,55.5]];
const ukBondExp = [[1970.12,35.6],[1970.27,40],[1970.61,44.8],[1970.93,45.5],[1971.12,40],[1971.27,34.4],[1971.49,38],[1971.77,37],[1972.00,31.5],[1972.06,26],[1972.09,20.4],[1972.34,18],[1972.53,15.5],[1972.81,20],[1973.28,18.3],[1973.56,20],[1973.84,21.5],[1973.93,26.5],[1974.03,33],[1974.12,37.8],[1974.27,43.1],[1974.40,42.5],[1974.59,40.5],[1974.69,38],[1974.78,34],[1974.80,28.5],[1974.82,22],[1974.85,17],[1974.87,12],[1975.06,13],[1975.12,17.5],[1975.15,22.5],[1975.21,34],[1975.25,45.3],[1975.31,50.9],[1975.44,46],[1975.53,41],[1975.72,36],[1975.91,32],[1976.00,26],[1976.19,24.4],[1976.66,29.1],[1976.94,25],[1977.22,19.5],[1977.41,16.4],[1977.50,12.5],[1978.20,9],[1978.44,3.3],[1978.82,3],[1979.06,6],[1979.19,2],[1979.25,-1],[1979.29,-5.4],[1979.38,0],[1979.44,4],[1979.47,8.2],[1979.85,18],[1979.91,25.5],[1980.00,30],[1980.08,22],[1980.32,27],[1980.41,32],[1980.60,36.1],[1980.98,36.5],[1981.35,39.6],[1981.63,42],[1981.73,47.4],[1981.92,51],[1981.95,57.4],[1982.01,58],[1982.14,52],[1982.29,46.9],[1982.57,51],[1982.72,56.1],[1982.85,60.1],[1982.95,54],[1983.00,45.5],[1983.04,48],[1983.19,46],[1983.51,46.5],[1983.92,48],[1984.32,48.5],[1984.60,55],[1984.73,57.5],[1985.01,58],[1985.39,56],[1985.41,51],[1985.54,45.7],[1985.67,41.5],[1985.86,36.1],[1985.95,32.1],[1986.05,37.5],[1986.14,43.4],[1986.20,50],[1986.42,57.9],[1986.70,58],[1986.84,63.1],[1986.99,65.7],[1987.14,61],[1987.27,57],[1987.74,52.1],[1987.83,44],[1987.87,33.5],[1987.89,20.8],[1987.91,14],[1987.92,7.9],[1988.08,6],[1988.39,6.5],[1988.58,7],[1988.77,11.7],[1989.05,17],[1989.24,21.3],[1989.43,19],[1989.90,25],[1989.95,27.7],[1989.99,33.5],[1990.08,39.6],[1990.18,44.8],[1990.33,50],[1990.37,55.6],[1990.52,57.9],[1990.65,52.6],[1990.78,49.5],[1991.02,50],[1991.49,50],[1992.06,48],[1992.15,47.4],[1992.34,51],[1992.58,50],[1992.81,46],[1993.00,41],[1993.15,41],[1993.37,40.8],[1993.65,44],[1993.84,43],[1993.90,47.4],[1994.12,48],[1994.22,50.9],[1994.31,61.7],[1994.50,64],[1994.65,60],[1994.87,58],[1995.25,55],[1995.62,55.6],[1995.81,57],[1996.00,60],[1996.28,56],[1996.56,57]];
const usEquityRolling = [[1975.07,88.9],[1975.26,90.4],[1975.58,89],[1975.96,89],[1976.15,89.5],[1976.20,89],[1976.43,89.5],[1976.81,89.6],[1977.18,89.5],[1977.47,89.1],[1977.75,89],[1977.94,88.5],[1978.22,88.5],[1978.50,88.3],[1978.79,89.5],[1978.98,89],[1979.26,90],[1979.45,91.5],[1979.64,91.5],[1979.82,90],[1979.98,88.7],[1980.11,85.9],[1980.20,83.9],[1980.35,88],[1980.39,84],[1980.48,86.5],[1980.58,84],[1980.73,82.6],[1980.86,81.3],[1980.99,80.2],[1981.14,78.9],[1981.52,78.5],[1981.62,78],[1981.75,81.3],[1981.86,81],[1981.99,79.8],[1982.37,79.5],[1982.50,80],[1982.61,78.5],[1982.80,82.4],[1982.94,82.5],[1983.22,82.5],[1983.50,83],[1983.78,83],[1983.97,82.5],[1984.16,81.4],[1984.35,81.5],[1984.54,82],[1984.73,81],[1984.88,82],[1985.01,80.7],[1985.20,83],[1985.29,80.2],[1985.44,83],[1985.57,82],[1985.76,84.3],[1985.86,84.5],[1985.95,87.2],[1986.05,87],[1986.20,88],[1986.33,87.5],[1986.52,85.5],[1986.71,84.5],[1986.89,85.8],[1987.08,85],[1987.37,85],[1987.55,84],[1987.65,83],[1987.74,87.2],[1988.03,87],[1988.50,87],[1988.87,87],[1989.06,87.5],[1989.25,88],[1989.63,88.5],[1990.01,88.5],[1990.29,88],[1990.48,88.5],[1990.67,87.5],[1990.86,87],[1990.95,88],[1991.04,86.5],[1991.23,87.5],[1991.42,88],[1991.61,89],[1991.80,88.5],[1992.04,89.4],[1992.27,89],[1992.55,88.5],[1992.83,89],[1993.02,89.5],[1993.21,88.5],[1993.40,87],[1993.68,86.5],[1993.87,86],[1994.06,85.2],[1994.44,85],[1994.62,85.5],[1994.72,84.5],[1994.87,83.3],[1995.00,85],[1995.19,83],[1995.28,81.1],[1995.38,77],[1995.51,80],[1995.62,81.5],[1995.70,79],[1995.76,81],[1995.85,77.8],[1995.94,77.5],[1996.04,78],[1996.13,75.7],[1996.26,74.5],[1996.41,77],[1996.51,80.5],[1996.60,78],[1996.70,76],[1996.79,73.7]];
const usEquityExp = [[1970.08,83.5],[1970.40,84.6],[1970.44,85.9],[1970.47,87.3],[1970.49,88.7],[1970.96,89.3],[1971.30,89.7],[1971.72,89],[1972.09,88.7],[1972.11,90.2],[1972.57,89.5],[1972.66,88.3],[1973.19,89],[1973.41,90],[1973.60,90.5],[1973.64,89],[1973.66,88],[1973.67,86.3],[1973.70,85],[1973.89,83.7],[1973.94,85],[1974.00,87.5],[1974.04,89],[1974.09,86.2],[1974.13,84],[1974.21,82.4],[1974.32,79.6],[1974.45,80.9],[1974.64,81],[1974.73,84],[1974.77,86.4],[1975.02,87.8],[1975.11,89.5],[1975.64,90.4],[1975.87,90.5],[1976.20,91.4],[1976.71,91.1],[1977.28,90.5],[1977.75,89.3],[1978.03,88.5],[1978.22,86.8],[1978.47,85.9],[1978.69,87],[1978.88,88],[1979.07,89],[1979.45,90],[1979.60,89],[1980.11,87.5],[1980.20,85.2],[1980.30,82.6],[1980.39,84],[1980.48,83],[1980.58,81.1],[1980.67,79.7],[1980.77,78.5],[1980.96,77.2],[1981.11,77.5],[1981.52,77],[1981.67,80],[1981.80,82.4],[1981.99,80.3],[1982.24,80],[1982.46,79.5],[1982.65,80],[1982.75,81.5],[1982.80,82.8],[1982.84,84.5],[1983.03,85.8],[1983.22,85],[1983.41,86],[1983.69,86],[1983.93,85.5],[1984.01,84],[1984.25,83.5],[1984.50,84.5],[1984.63,86],[1984.82,86.5],[1984.91,85.5],[1985.14,85],[1985.20,83.5],[1985.44,84],[1985.76,84],[1985.95,84.5],[1986.14,85.5],[1986.27,84],[1986.33,81.6],[1986.39,80.2],[1986.46,79],[1986.52,78.2],[1986.61,81],[1986.71,83],[1986.89,84.5],[1986.99,83],[1987.22,84.5],[1987.55,83.5],[1987.65,81.7],[1987.72,84.5],[1987.76,87.2],[1987.84,89.9],[1987.89,91.7],[1988.03,91],[1988.40,90.5],[1988.87,89.9],[1989.35,90],[1989.72,90.5],[1989.97,90.5],[1990.10,90.9],[1990.19,90],[1990.29,88],[1990.48,89.5],[1990.67,90],[1990.86,89.5],[1990.91,88],[1990.95,86],[1991.04,87],[1991.14,89],[1991.33,88],[1991.70,88],[1991.98,88.5],[1992.27,89],[1992.55,88.5],[1992.74,88],[1993.02,87.5],[1993.17,86],[1993.30,84.5],[1993.36,83],[1993.44,81.7],[1993.49,80.5],[1993.78,80.5],[1993.93,78.9],[1994.00,77.5],[1994.11,78.5],[1994.25,80],[1994.34,81.5],[1994.62,82.6],[1994.87,81.5],[1995.00,80],[1995.10,79.5],[1995.28,78],[1995.57,77.2],[1995.66,79],[1995.81,80.5],[1996.00,78.5],[1996.13,76.5],[1996.23,75.7],[1996.28,74],[1996.32,73.3],[1996.41,75],[1996.51,76.5],[1996.60,77.5],[1996.70,79],[1996.79,80]];
const usBondRolling = [[1975.07,62.9],[1975.13,65.5],[1975.22,63],[1975.36,65],[1975.54,61.4],[1975.73,60.5],[1975.92,60],[1976.11,61],[1976.30,60.5],[1976.58,61],[1976.77,62],[1976.96,63.2],[1977.34,64],[1977.90,64],[1978.47,63.5],[1978.75,62.5],[1978.90,66.6],[1979.03,71.8],[1979.22,71],[1979.32,68],[1979.56,67.5],[1979.69,65],[1979.75,62],[1979.82,63.5],[1979.94,69.5],[1980.07,68],[1980.16,63],[1980.22,69.5],[1980.31,57.7],[1980.39,68],[1980.54,69.2],[1980.73,67],[1980.92,68.5],[1981.11,66],[1981.29,65.5],[1981.48,64],[1981.67,63],[1981.77,65],[1981.86,67],[1981.95,68.5],[1982.09,69.7],[1982.24,69],[1982.52,68.5],[1982.71,69.5],[1982.86,71],[1983.09,71.5],[1983.37,72.4],[1983.75,73.1],[1984.22,73],[1984.50,73.5],[1984.69,72],[1984.88,71],[1985.07,69.5],[1985.25,70],[1985.41,72],[1985.54,70.5],[1985.73,72.5],[1985.91,73],[1986.10,74.5],[1986.29,76.2],[1986.48,76.5],[1986.57,78.6],[1986.72,78.5],[1986.86,76.5],[1987.05,75],[1987.23,74],[1987.42,72.4],[1987.61,72],[1987.71,71],[1987.80,72],[1987.86,48.8],[1988.08,50],[1988.36,49.5],[1988.65,49.8],[1988.93,49.5],[1989.21,50.5],[1989.40,50.5],[1989.50,43.6],[1989.68,47.2],[1989.87,47],[1989.97,44],[1990.06,46.5],[1990.34,47.5],[1990.53,48.5],[1990.72,48],[1990.81,49.5],[1991.00,47],[1991.19,46],[1991.29,44.6],[1991.38,37.5],[1991.57,38],[1991.76,37],[1991.95,34.1],[1992.04,33.3],[1992.19,36],[1992.32,35.5],[1992.51,37.5],[1992.61,38],[1992.76,37],[1992.83,54.6],[1993.08,54],[1993.36,52.8],[1993.55,53.5],[1993.83,51.5],[1994.02,52],[1994.21,55.1],[1994.49,58],[1994.68,60],[1994.87,62.9],[1995.06,60.5],[1995.25,58],[1995.44,56.5],[1995.62,57.5],[1995.77,50.7],[1995.91,55],[1996.00,54.5],[1996.19,55],[1996.25,61.4],[1996.38,59],[1996.66,59],[1996.80,57]];
const usBondExp = [[1970.04,58.5],[1970.27,60.8],[1970.55,63.7],[1970.77,66.6],[1971.02,68.9],[1971.21,69.9],[1971.49,67.5],[1971.74,64],[1971.83,61],[1972.02,58.4],[1972.34,55.9],[1972.72,56],[1973.04,58.2],[1973.28,57.5],[1973.41,55.5],[1973.56,55.5],[1973.60,52.5],[1973.66,49],[1973.72,45.7],[1973.85,43.5],[1973.89,40.5],[1973.90,37.5],[1973.94,34.1],[1974.04,37.5],[1974.13,40],[1974.19,43],[1974.28,46.7],[1974.36,50],[1974.51,52.5],[1974.66,54.6],[1974.70,58],[1974.88,56.5],[1974.92,53],[1974.94,57],[1975.04,60],[1975.17,61],[1975.26,68.7],[1975.36,68],[1975.54,65],[1975.83,64],[1976.05,67.6],[1976.30,67],[1976.77,66.6],[1977.05,63.2],[1977.34,64],[1977.71,64.5],[1977.99,65],[1978.18,66.6],[1978.32,63.5],[1978.47,60.5],[1978.66,60],[1978.81,62],[1978.90,67.4],[1979.03,65.5],[1979.22,68],[1979.32,65],[1979.50,65],[1979.60,63.5],[1979.69,54.9],[1979.82,55],[1979.86,59.5],[1979.92,64.5],[1979.98,69],[1979.99,73],[1980.05,74.5],[1980.07,76],[1980.13,72],[1980.26,70.5],[1980.31,65.5],[1980.45,69.5],[1980.73,67],[1980.96,68],[1981.29,65],[1981.58,64],[1981.80,62.1],[1981.86,66.5],[1982.01,72.4],[1982.33,70],[1982.58,70],[1982.80,70.5],[1982.99,73.9],[1983.18,77.1],[1983.37,75],[1983.65,76.5],[1983.93,76.5],[1984.16,75.5],[1984.41,76],[1984.59,76.5],[1984.65,73.5],[1984.69,70.8],[1984.88,69],[1985.07,67.9],[1985.35,70],[1985.50,69],[1985.73,68],[1985.91,70],[1986.10,72],[1986.35,73.5],[1986.48,75],[1986.63,77.5],[1986.72,77.5],[1986.86,76],[1987.05,75],[1987.18,73.5],[1987.33,72.5],[1987.42,68.7],[1987.61,67.6],[1987.71,68],[1987.78,62],[1987.80,56],[1987.84,49],[1987.86,43.6],[1987.88,38.3],[1987.89,33.6],[1987.93,29.4],[1987.97,25.2],[1988.08,26],[1988.23,27.9],[1988.46,31],[1988.61,34.7],[1988.74,37.5],[1988.99,40.4],[1989.18,44],[1989.36,43],[1989.50,41],[1989.68,40],[1989.82,38],[1989.97,41],[1990.16,45],[1990.34,50.9],[1990.44,54.5],[1990.63,56],[1990.72,58],[1990.82,55.5],[1990.91,53.5],[1991.10,52],[1991.29,49],[1991.48,50],[1991.66,50.5],[1991.85,51.5],[1991.95,50],[1992.04,49.5],[1992.10,52],[1992.15,53.8],[1992.32,53],[1992.51,52],[1992.64,50],[1992.70,48.5],[1992.89,46.2],[1992.95,42.5],[1993.27,42.5],[1993.64,43],[1993.83,44],[1994.02,45],[1994.08,46],[1994.15,49],[1994.19,53],[1994.23,57],[1994.27,60.3],[1994.31,65.5],[1994.49,66],[1994.68,66.5],[1994.87,67.6],[1995.06,66.5],[1995.25,65.5],[1995.34,62],[1995.44,64.5],[1995.62,66],[1995.72,67.5],[1995.81,64],[1995.91,61.5],[1996.06,60],[1996.23,62],[1996.41,58.5],[1996.56,57],[1996.75,55],[1996.85,53.5]];

// ---------- panel setup (layout kept separate from data) ----------
const panels = [
  {exp: canadaEquityExp,  roll: canadaEquityRolling,  y:[40,85,5],    box:[37,75,475,194]},
  {exp: canadaBondExp,    roll: canadaBondRolling,    y:[0,80,20],    box:[583,75,474,193]},
  {exp: germanyEquityExp, roll: germanyEquityRolling, y:[0,80,20],    box:[36,347,476,191]},
  {exp: germanyBondExp,   roll: germanyBondRolling,   y:[-20,80,20],  box:[582,346,473,192], zero:true},
  {exp: japanEquityExp,   roll: japanEquityRolling,   y:[20,80,20],   box:[36,619,474,193]},
  {exp: japanBondExp,     roll: japanBondRolling,     y:[-20,80,20],  box:[581,619,472,192], zero:true},
  {exp: ukEquityExp,      roll: ukEquityRolling,      y:[20,90,10],   box:[34,892,474,192]},
  {exp: ukBondExp,        roll: ukBondRolling,        y:[-20,80,20],  box:[580,893,473,191], zero:true},
  {exp: usEquityExp,      roll: usEquityRolling,      y:[70,95,5],    box:[33,1170,475,192], xLabels:true},
  {exp: usBondExp,        roll: usBondRolling,        y:[20,80,20],   box:[577,1171,475,191], xLabels:true}
];

const FONT = '"DejaVu Serif", "Liberation Serif", serif';
const grids = [], xAxes = [], yAxes = [], series = [];
panels.forEach((p, i) => {
  grids.push({left:p.box[0], top:p.box[1], width:p.box[2], height:p.box[3], show:true,
    borderColor:'#000', borderWidth:1.2, backgroundColor:'transparent', containLabel:false, outerBoundsMode:'none'});
  xAxes.push({type:'value', gridIndex:i, min:1970, max:1996.8, interval:2,
    axisLine:{show:true, onZero:false, lineStyle:{color:'#000', width:1.2}},
    axisTick:{show:true, inside:true, length:8, lineStyle:{color:'#000', width:1.2}},
    splitLine:{show:false},
    axisLabel:{show:!!p.xLabels, margin:13, color:'#000', fontFamily:FONT, fontSize:17, showMaxLabel:false,
      formatter: v => { const k = xTickYears.indexOf(Math.round(v*1000)/1000); return k >= 0 ? xTickLabels[k] : ''; }}
  });
  yAxes.push({type:'value', gridIndex:i, min:p.y[0], max:p.y[1], interval:p.y[2],
    axisLine:{show:true, onZero:false, lineStyle:{color:'#000', width:1.2}},
    axisTick:{show:true, inside:true, length:4, lineStyle:{color:'#000', width:1}},
    splitLine:{show:false},
    axisLabel:{margin:4, color:'#000', fontFamily:FONT, fontSize:17,
      formatter: v => v < 0 ? '\u2212' + Math.abs(v) : String(v)}
  });
  series.push({type:'line', name:legendNames[0], xAxisIndex:i, yAxisIndex:i, data:p.exp,
    symbol:'none', showSymbol:false, silent:true, z:3, color:'#000', itemStyle:{color:'#000'},
    lineStyle:{color:'#000', width:2, type:[1.8,4.2], cap:'butt'}});
  const roll = {type:'line', name:legendNames[1], xAxisIndex:i, yAxisIndex:i, data:p.roll,
    symbol:'none', showSymbol:false, silent:true, z:4, color:'#111', itemStyle:{color:'#111'},
    lineStyle:{color:'#111', width:1.1}};
  if (p.zero) {
    roll.markLine = {silent:true, symbol:['none','none'], label:{show:false}, animation:false,
      lineStyle:{color:'#8a8a8a', width:1, type:[1,2.5]}, data:[{yAxis:zeroRef}]};
  }
  series.push(roll);
});

const titleStyle = {fontFamily:FONT, fontSize:18, fontWeight:'normal', color:'#000'};
const titles = [
  {text:columnTitles[0], left:274, top:6,  textAlign:'center', textStyle:titleStyle},
  {text:columnTitles[1], left:817, top:6,  textAlign:'center', textStyle:titleStyle},
  {text:countryTitles[0], left:546, top:30,   textAlign:'center', textStyle:titleStyle},
  {text:countryTitles[1], left:546, top:301,  textAlign:'center', textStyle:titleStyle},
  {text:countryTitles[2], left:546, top:574,  textAlign:'center', textStyle:titleStyle},
  {text:countryTitles[3], left:546, top:847,  textAlign:'center', textStyle:titleStyle},
  {text:countryTitles[4], left:546, top:1126, textAlign:'center', textStyle:titleStyle}
];

const legendItemStyle = {opacity:0, color:'transparent', borderColor:'transparent', borderWidth:0};
const chart = echarts.init(document.getElementById('c'), null, {renderer:'svg', width:1072, height:1454});
chart.setOption({
  animation:false,
  backgroundColor:'#fff',
  title:titles,
  legend:[
    {data:[legendNames[0]], left:268, top:1425, itemWidth:78, itemHeight:14, selectedMode:false,
     itemStyle:legendItemStyle,
     textStyle:{fontFamily:FONT, fontSize:18, color:'#000', padding:[0,0,0,6]}},
    {data:[legendNames[1]], left:577, top:1425, itemWidth:68, itemHeight:14, selectedMode:false,
     itemStyle:legendItemStyle,
     textStyle:{fontFamily:FONT, fontSize:18, color:'#000', padding:[0,0,0,4]}}
  ],
  grid:grids, xAxis:xAxes, yAxis:yAxes, series:series
});
</script>
</body></html>
